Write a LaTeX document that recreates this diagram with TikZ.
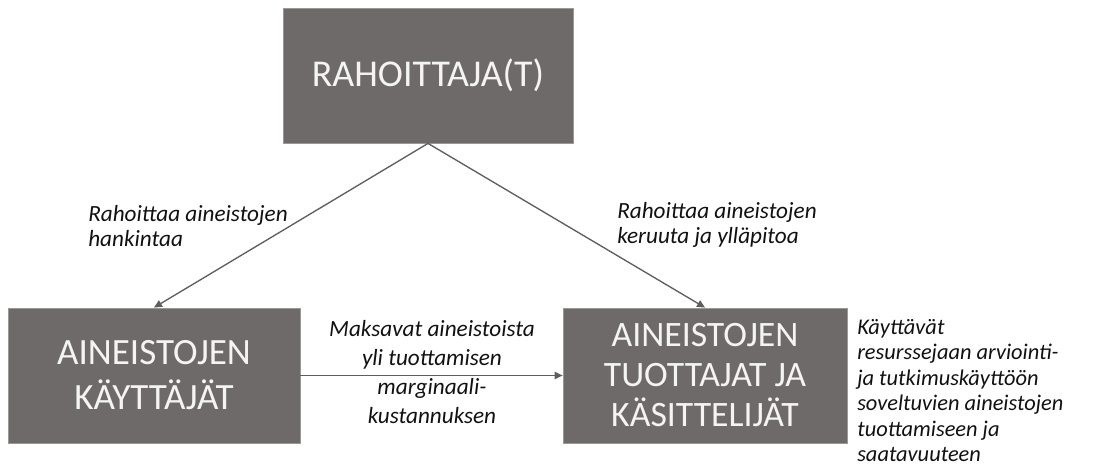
\documentclass[tikz,border=0pt]{standalone}
\usepackage{fontspec}
\setmainfont{Carlito}
\usetikzlibrary{arrows.meta}
\definecolor{boxgray}{HTML}{6E6A69}
\definecolor{boxedge}{HTML}{9A9796}
\definecolor{boxtext}{HTML}{F4F4F4}
\definecolor{arrowgray}{HTML}{5E5E5E}
\definecolor{labeltext}{HTML}{111111}
\tikzset{
  box/.style={rectangle, fill=boxgray, draw=boxedge, line width=0.6pt, text=boxtext, align=center, inner sep=0pt, minimum height=135*0.75pt},
  conn/.style={draw=arrowgray, line width=1pt, -{Triangle[length=6pt,width=5.5pt]}},
  lbl/.style={inner sep=0pt, text=labeltext, font={\fontsize{17.4}{18.75}\selectfont\itshape}}
}
\begin{document}
\begin{tikzpicture}[x=0.75pt,y=-0.75pt]
\useasboundingbox (0,0) rectangle (1095,470);
\node[box, minimum width=290*0.75pt, font={\fontsize{28.4}{34}\selectfont}] (rah) at (428,75.5) {\raisebox{-2pt}{RAHOITTAJA(T)}};
\node[box, minimum width=292*0.75pt, font={\fontsize{27.8}{33.75}\selectfont}] (kay) at (154,375.5) {AINEISTOJEN\\KÄYTTÄJÄT};
\node[box, minimum width=284*0.75pt, font={\fontsize{26.8}{30}\selectfont}] (tuo) at (705,375.5) {AINEISTOJEN\\TUOTTAJAT JA\\KÄSITTELIJÄT};
\draw[conn] (rah.south) -- (kay.north);
\draw[conn] (rah.south) -- (tuo.north);
\draw[conn] (kay.east) -- (tuo.west);
\node[lbl, anchor=north west, align=left] (l1) at (88,205) {Rahoittaa aineistojen\\hankintaa};
\node[lbl, anchor=north west, align=left] (l2) at (617,202) {Rahoittaa aineistojen\\keruuta ja ylläpitoa};
\node[lbl, anchor=north, align=center, font={\fontsize{17.4}{21.75}\selectfont\itshape}] (l3) at (432,320) {Maksavat aineistoista\\yli tuottamisen\\marginaali-\\kustannuksen};
\node[lbl, anchor=north west, align=left, font={\fontsize{16.8}{19.1}\selectfont\itshape}] (l4) at (857,319) {Käyttävät\\resurssejaan arviointi-\\ja tutkimuskäyttöön\\soveltuvien aineistojen\\tuottamiseen ja\\saatavuuteen};
\end{tikzpicture}
\end{document}
